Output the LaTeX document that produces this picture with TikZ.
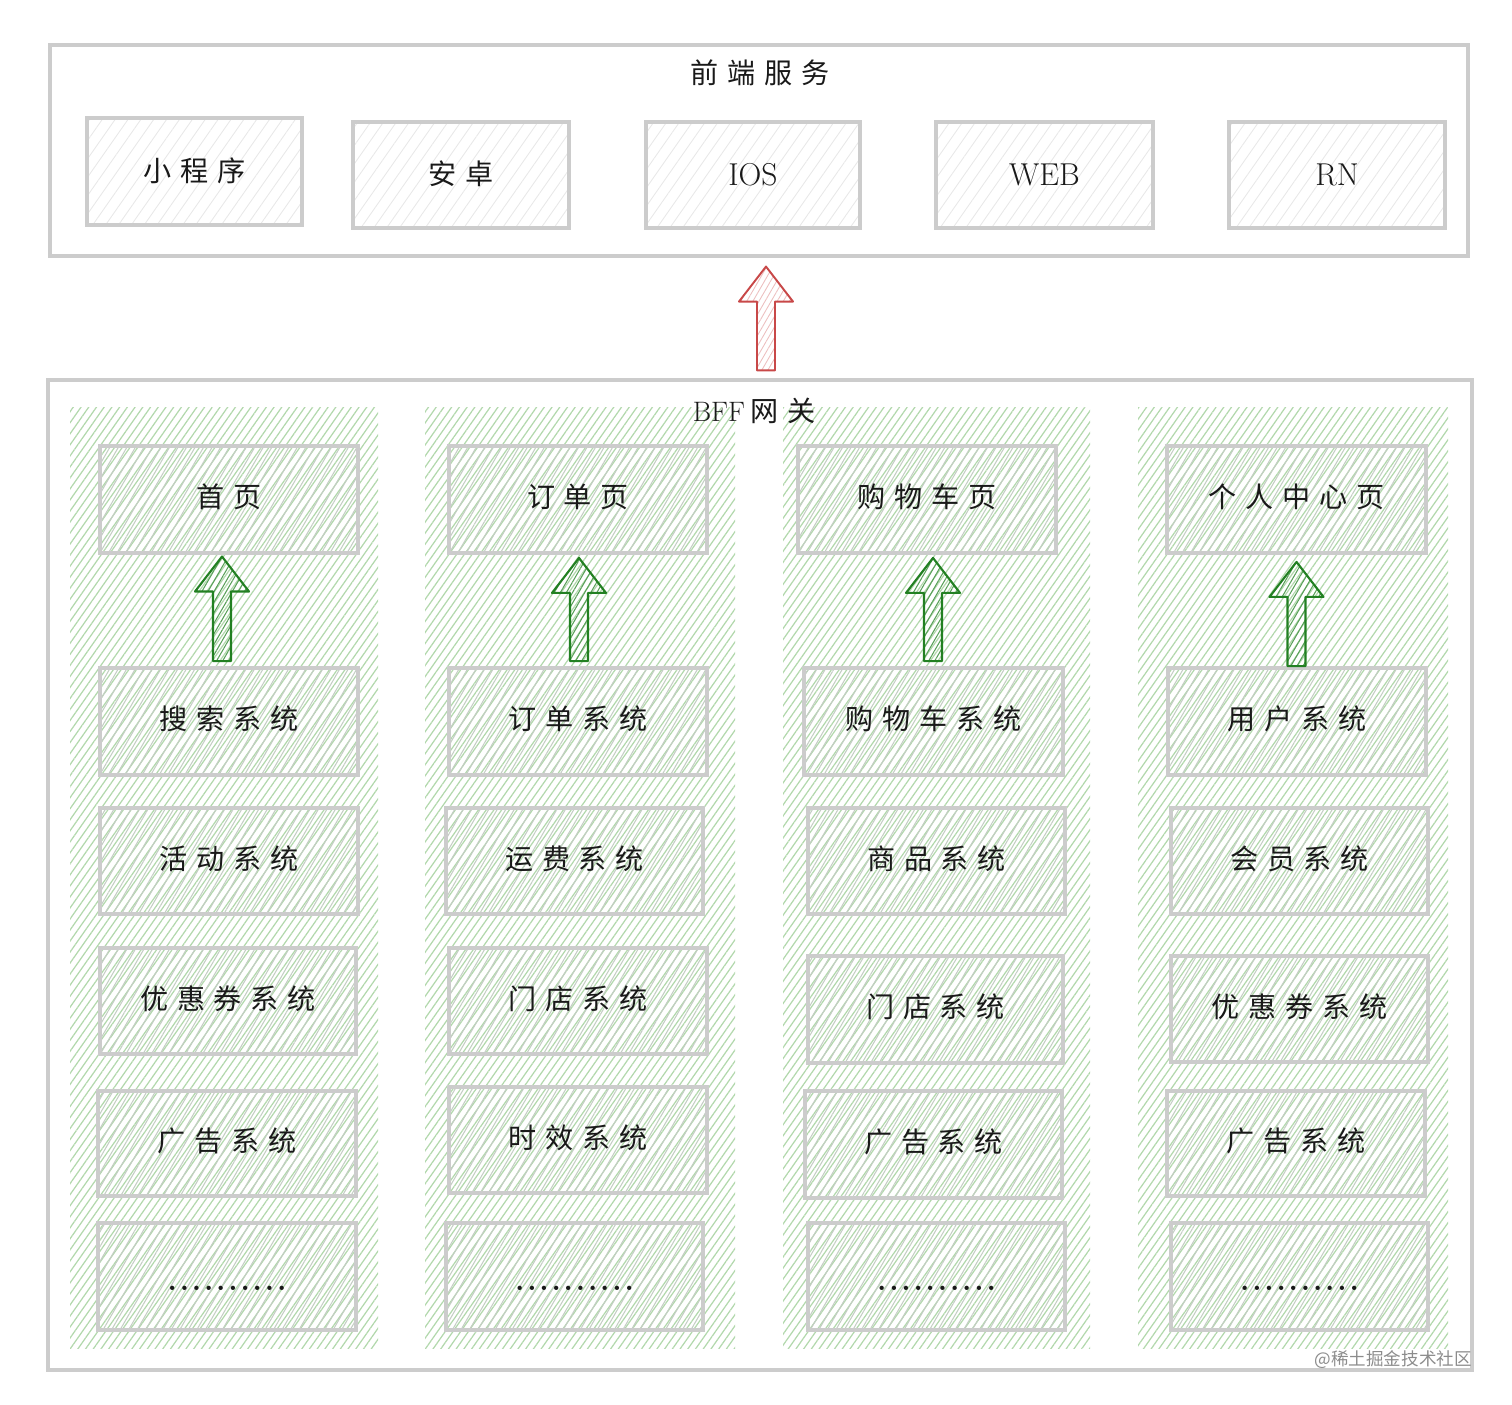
\documentclass[tikz,border=0pt]{standalone}
\usepackage{fontspec}
\newfontfamily\cjk[LetterSpace=31]{Noto Sans CJK SC}
\newfontfamily\cjkplain{Noto Sans CJK SC}
\usetikzlibrary{patterns.meta,calc,fit}
\definecolor{bordergray}{RGB}{204,204,204}
\definecolor{hatchgreen}{RGB}{178,216,172}
\definecolor{hatchgray}{RGB}{196,206,196}
\definecolor{arrgreen}{RGB}{34,128,34}
\definecolor{arrred}{RGB}{200,72,72}
\definecolor{ink}{RGB}{25,25,25}
\newcommand\dotrow{.\kern1.6pt.\kern1.6pt.\kern1.6pt.\kern1.6pt.\kern1.6pt.\kern1.6pt.\kern1.6pt.\kern1.6pt.\kern1.6pt.}
\newcommand\blockarrow[3]{%
  \path (#1 |- #2) coordinate (arB);
  \draw[#3] ($(arB)+(-9,0)$) -- ($(#1)+(-9,35)$) -- ($(#1)+(-27,35)$) -- (#1)
    -- ($(#1)+(27,35)$) -- ($(#1)+(9,35)$) -- ($(arB)+(9,0)$) -- cycle;}
\tikzset{
  outerbox/.style={draw=bordergray, line width=1.8pt, inner sep=0pt},
  colhatch/.style={draw=none, inner sep=0pt, pattern={Lines[angle=55,distance=3.6pt,line width=0.7pt]}, pattern color=hatchgreen},
  lowered/.style={execute at begin node={\lower#1\hbox\bgroup}, execute at end node={\egroup}},
  topbox/.style={draw=bordergray, line width=2.2pt, inner sep=0pt, text=ink, lowered=12.5pt,
    pattern={Lines[angle=55,distance=6pt,line width=0.5pt]}, pattern color=black!9,
    font=\cjk\fontsize{16}{16}\selectfont},
  sysframe/.style={draw=bordergray, line width=2.2pt, inner sep=0pt, text=ink,
    pattern={Lines[angle=60,distance=4.2pt,line width=0.6pt]}, pattern color=hatchgray,
    font=\cjk\fontsize{16}{16}\selectfont},
  sysbox/.style={sysframe, lowered=10.5pt},
  dotbox/.style={sysframe, lowered=15.8pt, font=\fontsize{17}{17}\selectfont\bfseries},
  latin/.style={font=\fontsize{18}{18}\selectfont},
  greenarr/.style={draw=arrgreen, line width=1.2pt, line join=round,
    pattern={Lines[angle=60,distance=3pt,line width=0.6pt]}, pattern color=arrgreen!75},
  redarr/.style={draw=arrred, line width=1.1pt, line join=round,
    pattern={Lines[angle=60,distance=3pt,line width=0.5pt]}, pattern color=arrred!35},
  titletext/.style={text=ink, font=\cjk\fontsize{16}{16}\selectfont}
}
\begin{document}
\begin{tikzpicture}[x=0.02cm,y=-0.02cm]
\useasboundingbox (0,0) rectangle (1512,1405);
% front end
\node[outerbox, fit={(50,45)(1468,256)}] (fe) {};
\node[titletext] (fetitle) at (760,73) {前端服务};
\node[topbox, fit={(87,118)(302,225)}] (xcx) {小程序};
\node[topbox, fit={(353,122)(569,228)}] (az) {安卓};
\node[topbox, latin, fit={(646,122)(860,228)}] (ios) {IOS};
\node[topbox, latin, fit={(936,122)(1153,228)}] (web) {WEB};
\node[topbox, latin, fit={(1229,122)(1445,228)}] (rn) {RN};
% BFF
\node[outerbox, fit={(48,380)(1472,1370)}] (bff) {};
\node[colhatch, fit={(70,408)(378,1348)}] (col1) {};
\node[colhatch, fit={(425,408)(735,1348)}] (col2) {};
\node[colhatch, fit={(783,408)(1090,1348)}] (col3) {};
\node[colhatch, fit={(1138,408)(1448,1348)}] (col4) {};
\node[text=ink, font=\fontsize{16}{16}\selectfont] (bfftitle) at (754,411) {BFF\kern3pt{\cjk 网关}};
% column 1
\node[sysbox, fit={(100,446)(358,553)}] (p1) {首页};
\node[sysbox, fit={(100,668)(358,775)}] (s11) {搜索系统};
\node[sysbox, fit={(100,808)(358,914)}] (s12) {活动系统};
\node[sysbox, fit={(100,948)(356,1054)}] (s13) {优惠券系统};
\node[sysbox, fit={(98,1091)(356,1196)}] (s14) {广告系统};
\node[dotbox, fit={(98,1223)(356,1330)}] (s15) {\dotrow};
% column 2
\node[sysbox, fit={(449,446)(707,553)}] (p2) {订单页};
\node[sysbox, fit={(449,668)(707,775)}] (s21) {订单系统};
\node[sysbox, fit={(446,808)(703,914)}] (s22) {运费系统};
\node[sysbox, fit={(449,948)(707,1054)}] (s23) {门店系统};
\node[sysbox, fit={(449,1087)(707,1193)}] (s24) {时效系统};
\node[dotbox, fit={(446,1223)(703,1330)}] (s25) {\dotrow};
% column 3
\node[sysbox, fit={(798,446)(1056,553)}] (p3) {购物车页};
\node[sysbox, fit={(804,668)(1063,775)}] (s31) {购物车系统};
\node[sysbox, fit={(808,808)(1065,914)}] (s32) {商品系统};
\node[sysbox, fit={(808,956)(1063,1063)}] (s33) {门店系统};
\node[sysbox, fit={(805,1091)(1062,1198)}] (s34) {广告系统};
\node[dotbox, fit={(808,1223)(1065,1330)}] (s35) {\dotrow};
% column 4
\node[sysbox, fit={(1167,446)(1426,553)}] (p4) {个人中心页};
\node[sysbox, fit={(1168,668)(1426,775)}] (s41) {用户系统};
\node[sysbox, fit={(1171,808)(1428,914)}] (s42) {会员系统};
\node[sysbox, fit={(1171,956)(1428,1062)}] (s43) {优惠券系统};
\node[sysbox, fit={(1167,1091)(1425,1196)}] (s44) {广告系统};
\node[dotbox, fit={(1171,1223)(1428,1330)}] (s45) {\dotrow};
% arrows
\path ($(p1.south)+(-7,3)$) coordinate (t1) ($(s11.north)+(0,-5)$) coordinate (b1);
\blockarrow{t1}{b1}{greenarr}
\path ($(p2.south)+(1,3)$) coordinate (t2) ($(s21.north)+(0,-5)$) coordinate (b2);
\blockarrow{t2}{b2}{greenarr}
\path ($(p3.south)+(6,3)$) coordinate (t3) ($(s31.north)+(0,-5)$) coordinate (b3);
\blockarrow{t3}{b3}{greenarr}
\path ($(p4.south)+(0,7)$) coordinate (t4) ($(s41.north)+(0,0)$) coordinate (b4);
\blockarrow{t4}{b4}{greenarr}
\path ($(fe.south)+(7,9)$) coordinate (tr) ($(bff.north)+(0,-8)$) coordinate (br);
\blockarrow{tr}{br}{redarr}
% watermark
\node[anchor=east, text=black!45, font=\cjkplain\fontsize{10}{10}\selectfont] (wm) at (1478,1360) {@稀土掘金技术社区};
\end{tikzpicture}
\end{document}
